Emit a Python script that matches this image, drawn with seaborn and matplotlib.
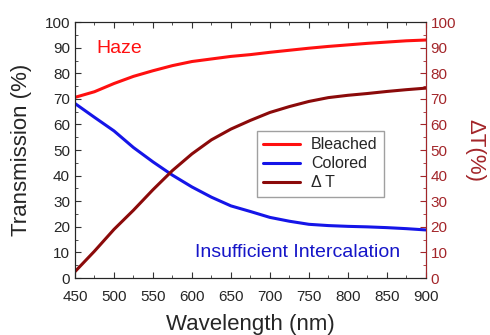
import matplotlib
matplotlib.use("Agg")
import matplotlib.pyplot as plt
import seaborn as sns
import pandas as pd
from matplotlib.ticker import MultipleLocator

sns.set_style("ticks")
plt.rcParams["font.family"] = ["Liberation Sans", "DejaVu Sans"]

wavelength = [450, 475, 500, 525, 550, 575, 600, 625, 650, 675, 700,
              725, 750, 775, 800, 825, 850, 875, 900]
bleached = [70.6, 72.8, 76.0, 78.8, 81.0, 83.0, 84.6, 85.6, 86.6, 87.3, 88.2,
            89.0, 89.8, 90.5, 91.1, 91.7, 92.2, 92.7, 93.0]
colored = [68.2, 62.8, 57.5, 51.0, 45.4, 40.2, 35.6, 31.6, 28.2, 26.0, 23.7,
           22.2, 21.0, 20.5, 20.2, 20.0, 19.7, 19.3, 18.8]
delta_t = [2.5, 10.5, 19.0, 26.5, 34.5, 42.0, 48.5, 54.0, 58.2, 61.6, 64.7,
           67.0, 69.0, 70.5, 71.4, 72.1, 72.9, 73.6, 74.2]

df = pd.DataFrame({"Wavelength": wavelength, "Bleached": bleached,
                   "Colored": colored, "dT": delta_t})

dark_red = "#a3262a"

fig, ax = plt.subplots(figsize=(4.9, 3.35), dpi=100)
fig.subplots_adjust(left=0.153, right=0.869, bottom=0.170, top=0.934)

sns.lineplot(data=df, x="Wavelength", y="Bleached", color="#ff1010", linewidth=2.2, ax=ax, label="Bleached")
sns.lineplot(data=df, x="Wavelength", y="Colored", color="#1515e8", linewidth=2.2, ax=ax, label="Colored")
ax2 = ax.twinx()
sns.lineplot(data=df, x="Wavelength", y="dT", color="#8b0a0a", linewidth=2.2, ax=ax2, label="\u0394 T")

ax.set_xlim(450, 900)
ax.set_ylim(0, 100)
ax2.set_ylim(0, 100)
ax.xaxis.set_major_locator(MultipleLocator(50))
ax.xaxis.set_minor_locator(MultipleLocator(25))
ax.yaxis.set_major_locator(MultipleLocator(10))
ax.yaxis.set_minor_locator(MultipleLocator(5))
ax2.yaxis.set_major_locator(MultipleLocator(10))
ax2.yaxis.set_minor_locator(MultipleLocator(5))

ax.tick_params(axis="both", which="both", direction="in", top=True, right=False, labelsize=11, color="#333333")
ax.tick_params(axis="x", which="major", pad=8.5)
ax.tick_params(which="major", length=4)
ax.tick_params(which="minor", length=2.5)
ax2.tick_params(axis="y", which="both", direction="in", colors=dark_red, labelsize=11)
ax2.tick_params(which="major", length=4)
ax2.tick_params(which="minor", length=2.5)
ax2.spines["right"].set_color(dark_red)

ax.set_xlabel("Wavelength (nm)", fontsize=16, labelpad=7)
ax.set_ylabel("Transmission (%)", fontsize=16, labelpad=9)
ax2.set_ylabel("\u0394T(%)", fontsize=16, color=dark_red, rotation=270, labelpad=21)

ax.text(0.061, 0.896, "Haze", transform=ax.transAxes, color="#ff1010", fontsize=14, va="center")
ax.text(0.341, 0.10, "Insufficient Intercalation", transform=ax.transAxes, color="#1515c8", fontsize=14, va="center")

h1, l1 = ax.get_legend_handles_labels()
h2, l2 = ax2.get_legend_handles_labels()
ax2.get_legend().remove()
ax.legend(h1 + h2, l1 + l2, loc="upper left", bbox_to_anchor=(0.518, 0.575), fontsize=11.5,
          frameon=True, fancybox=False, edgecolor="#888888", handlelength=2.3,
          borderpad=0.4, labelspacing=0.25, handletextpad=0.7, borderaxespad=0)

plt.savefig("out.png", dpi=100)
plt.close()
